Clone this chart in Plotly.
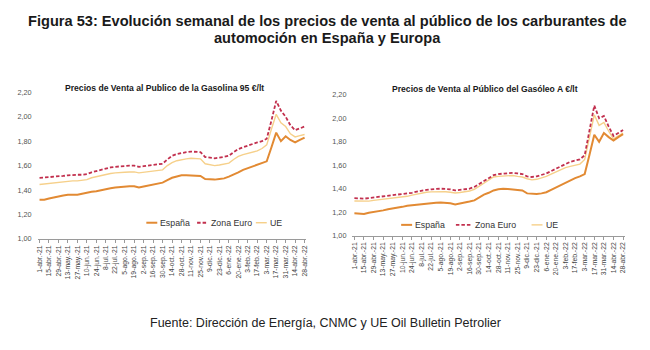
import plotly.graph_objects as go

W, H = 650, 350

# ---------------- data ----------------
tick_labels = ["1-abr.-21", "15-abr.-21", "29-abr.-21", "13-may.-21", "27-may.-21", "10-jun.-21",
               "24-jun.-21", "8-jul.-21", "22-jul.-21", "5-ago.-21", "19-ago.-21", "2-sep.-21",
               "16-sep.-21", "30-sep.-21", "14-oct.-21", "28-oct.-21", "11-nov.-21", "25-nov.-21",
               "9-dic.-21", "23-dic.-21", "6-ene.-22", "20-ene.-22", "3-feb.-22", "17-feb.-22",
               "3-mar.-22", "17-mar.-22", "31-mar.-22", "14-abr.-22", "28-abr.-22"]

gas_espana = [1.32, 1.32, 1.33, 1.34, 1.35, 1.355, 1.36, 1.36, 1.362, 1.37, 1.38, 1.385, 1.39, 1.40,
              1.41, 1.415, 1.42, 1.425, 1.43, 1.43, 1.43, 1.42, 1.428, 1.435, 1.44, 1.45, 1.46, 1.48,
              1.50, 1.51, 1.52, 1.52, 1.52, 1.52, 1.515, 1.49, 1.485, 1.485, 1.49, 1.495, 1.51, 1.525,
              1.545, 1.565, 1.58, 1.595, 1.61, 1.62, 1.635, 1.75, 1.87, 1.80, 1.84, 1.81, 1.79, 1.81,
              1.83]
gas_zona_euro = [1.50, 1.50, 1.505, 1.51, 1.51, 1.515, 1.52, 1.525, 1.525, 1.525, 1.53, 1.545, 1.555,
                 1.57, 1.58, 1.585, 1.59, 1.595, 1.595, 1.60, 1.60, 1.59, 1.595, 1.60, 1.605, 1.61,
                 1.615, 1.65, 1.68, 1.695, 1.705, 1.71, 1.715, 1.715, 1.71, 1.67, 1.665, 1.66, 1.665,
                 1.67, 1.68, 1.71, 1.735, 1.75, 1.765, 1.78, 1.79, 1.80, 1.82, 1.97, 2.13, 2.05, 2.00,
                 1.93, 1.89, 1.905, 1.92]
gas_ue = [1.445, 1.45, 1.455, 1.46, 1.46, 1.465, 1.47, 1.475, 1.475, 1.48, 1.485, 1.50, 1.51, 1.52,
          1.53, 1.535, 1.54, 1.545, 1.545, 1.548, 1.548, 1.54, 1.545, 1.55, 1.555, 1.56, 1.565, 1.60,
          1.625, 1.64, 1.65, 1.655, 1.66, 1.66, 1.655, 1.615, 1.605, 1.60, 1.605, 1.61, 1.62, 1.65,
          1.675, 1.69, 1.70, 1.71, 1.72, 1.74, 1.77, 1.90, 2.02, 1.95, 1.92, 1.86, 1.835, 1.845,
          1.855]

die_espana = [1.19, 1.185, 1.185, 1.195, 1.20, 1.205, 1.215, 1.225, 1.23, 1.24, 1.245, 1.255, 1.26,
              1.265, 1.27, 1.275, 1.277, 1.28, 1.283, 1.28, 1.275, 1.266, 1.272, 1.28, 1.29, 1.30,
              1.325, 1.35, 1.365, 1.385, 1.395, 1.40, 1.397, 1.395, 1.39, 1.385, 1.36, 1.355, 1.355,
              1.36, 1.37, 1.39, 1.41, 1.435, 1.455, 1.475, 1.49, 1.505, 1.525, 1.69, 1.86, 1.80, 1.875,
              1.84, 1.81, 1.84, 1.865]
die_zona_euro = [1.32, 1.315, 1.315, 1.32, 1.325, 1.33, 1.335, 1.34, 1.342, 1.345, 1.35, 1.36, 1.365,
                 1.375, 1.385, 1.39, 1.395, 1.40, 1.40, 1.398, 1.395, 1.385, 1.388, 1.393, 1.40, 1.415,
                 1.44, 1.47, 1.495, 1.515, 1.525, 1.53, 1.533, 1.535, 1.53, 1.525, 1.505, 1.50, 1.505,
                 1.515, 1.53, 1.55, 1.57, 1.595, 1.615, 1.63, 1.64, 1.65, 1.685, 1.90, 2.11, 2.00, 2.02,
                 1.93, 1.85, 1.875, 1.90]
die_ue = [1.295, 1.294, 1.293, 1.294, 1.30, 1.305, 1.31, 1.313, 1.317, 1.32, 1.325, 1.335, 1.345,
          1.355, 1.365, 1.37, 1.373, 1.375, 1.375, 1.374, 1.37, 1.363, 1.367, 1.372, 1.38, 1.395, 1.42,
          1.45, 1.475, 1.50, 1.505, 1.507, 1.512, 1.513, 1.505, 1.50, 1.485, 1.475, 1.48, 1.49, 1.505,
          1.525, 1.545, 1.565, 1.58, 1.59, 1.60, 1.61, 1.65, 1.84, 2.03, 1.94, 1.965, 1.89, 1.825,
          1.85, 1.875]

y_ticks = [1.0, 1.2, 1.4, 1.6, 1.8, 2.0, 2.2]
y_tick_labels = ["1,00", "1,20", "1,40", "1,60", "1,80", "2,00", "2,20"]
series_names = ["España", "Zona Euro", "UE"]

# ---------------- styling ----------------
C_ES, C_ZE, C_UE = "#E28A33", "#C2304E", "#F6D08A"
FONT = "Liberation Sans, Arial, sans-serif"

def px_x(p):
    return p / W

def px_y(p):
    return 1 - p / H

x_idx = list(range(len(gas_espana)))
tickvals = x_idx[::2]

fig = go.Figure()

def add_series(xa, ya, es, ze, ue):
    fig.add_trace(go.Scatter(x=x_idx, y=ue, mode="lines", name=series_names[2],
                             line=dict(color=C_UE, width=1.4), xaxis=xa, yaxis=ya, showlegend=False))
    fig.add_trace(go.Scatter(x=x_idx, y=ze, mode="lines", name=series_names[1],
                             line=dict(color=C_ZE, width=1.8, dash="3.5px,2px"), xaxis=xa, yaxis=ya,
                             showlegend=False))
    fig.add_trace(go.Scatter(x=x_idx, y=es, mode="lines", name=series_names[0],
                             line=dict(color=C_ES, width=2), xaxis=xa, yaxis=ya, showlegend=False))

add_series("x", "y", gas_espana, gas_zona_euro, gas_ue)
add_series("x2", "y2", die_espana, die_zona_euro, die_ue)

xaxis_common = dict(range=[-0.4, 56.4], tickmode="array", tickvals=tickvals, ticktext=tick_labels,
                    tickangle=-90, tickfont=dict(size=6.8, color="#444", family=FONT),
                    showline=True, linecolor="#9a9a9a", linewidth=1, ticks="outside", ticklen=3,
                    tickcolor="#9a9a9a", showgrid=False, zeroline=False, fixedrange=True)
yaxis_common = dict(range=[1.0, 2.2], tickmode="array", tickvals=y_ticks, ticktext=y_tick_labels,
                    tickfont=dict(size=7.3, color="#555", family=FONT), showline=False,
                    showgrid=False, zeroline=False, ticks="", ticklabelstandoff=5, fixedrange=True)

fig.update_layout(
    width=W, height=H, margin=dict(l=0, r=0, t=0, b=0),
    paper_bgcolor="white", plot_bgcolor="white",
    xaxis=dict(xaxis_common, domain=[px_x(35.8), px_x(305.9)], anchor="y"),
    yaxis=dict(yaxis_common, domain=[px_y(241), px_y(90.7)], anchor="x"),
    xaxis2=dict(xaxis_common, domain=[px_x(352.1), px_x(625.9)], anchor="y2"),
    yaxis2=dict(yaxis_common, domain=[px_y(237.7), px_y(93.3)], anchor="x2"),
    showlegend=False,
)

annotations = [
    dict(text="<b>Figura 53: Evolución semanal de los precios de venta al público de los carburantes de</b>",
         x=px_x(327), y=px_y(17), font=dict(size=14.6, color="#1a1a1a", family=FONT)),
    dict(text="<b>automoción en España y Europa</b>",
         x=px_x(327), y=px_y(34.5), font=dict(size=14.6, color="#1a1a1a", family=FONT)),
    dict(text="<b>Precios de Venta al Publico de la Gasolina 95 €/lt</b>",
         x=px_x(163), y=px_y(86), font=dict(size=8.6, color="#1a1a1a", family=FONT)),
    dict(text="<b>Precios de Venta al Público del Gasóleo A €/lt</b>",
         x=px_x(485), y=px_y(87.5), font=dict(size=8.6, color="#1a1a1a", family=FONT)),
    dict(text="Fuente: Dirección de Energía, CNMC y UE Oil Bulletin Petrolier",
         x=px_x(325), y=px_y(327), font=dict(size=12.5, color="#222", family=FONT)),
]
for a in annotations:
    a.update(xref="paper", yref="paper", showarrow=False, xanchor="center", yanchor="middle")

# manual legends (line sample + label)
legend_defs = [
    (224.5, [(145, 156, 157), (196, 207, 208), (255, 266, 267)]),
    (226.7, [(401, 412, 413), (456, 472, 473), (532, 543, 545)]),
]
styles = [dict(color=C_ES, width=2), dict(color=C_ZE, width=1.8, dash="3.5px,2px"),
          dict(color=C_UE, width=1.4)]
shapes = []
for ly, items in legend_defs:
    for (x0, x1, tx), st, nm in zip(items, styles, series_names):
        shapes.append(dict(type="line", xref="paper", yref="paper", x0=px_x(x0), x1=px_x(x1),
                           y0=px_y(ly), y1=px_y(ly), line=st))
        annotations.append(dict(text=nm, xref="paper", yref="paper", x=px_x(tx), y=px_y(ly),
                                xanchor="left", yanchor="middle", showarrow=False,
                                font=dict(size=8.8, color="#333", family=FONT)))

fig.update_layout(annotations=annotations, shapes=shapes)
fig.write_html("out.html")
